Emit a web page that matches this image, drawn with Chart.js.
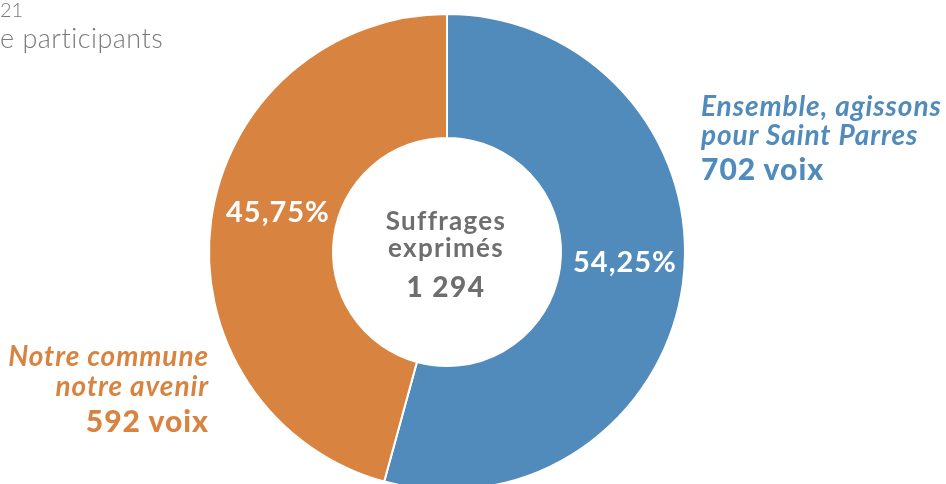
<!DOCTYPE html>
<html>
	<head>
		<meta charset="UTF-8">
		<title>Suffrages exprimés</title>
		<script src="https://cdn.jsdelivr.net/npm/chart.js@4.4.1/dist/chart.umd.min.js"></script>
		<style>
			html,body{margin:0;padding:0;background:#fff;}
			#wrap{position:relative;width:946px;height:484px;overflow:hidden;font-family:Lato,sans-serif;}
			#box{position:absolute;left:0;top:0;width:946px;height:504px;}
			.t{position:absolute;white-space:nowrap;line-height:1;}
			.blue{color:#508bbb;}
			.orange{color:#d88440;}
			.lbl{font-size:28px;font-weight:700;font-style:italic;letter-spacing:0.9px;}
			.voix{font-size:30px;font-weight:900;letter-spacing:1px;}
			.mid{left:346px;width:200px;text-align:center;color:#6e6e6e;font-weight:700;}
			.pct{font-size:29px;font-weight:700;color:#fff;letter-spacing:1px;}
			.left{right:737px;text-align:right;}
		</style>
	</head>
	<body>
		<div id="wrap">
			<div id="box"><canvas id="myChart"></canvas></div>

			<!--texte coupé en haut à gauche-->
			<div class="t" style="left:0;top:-1px;font-size:20px;font-weight:300;color:#7a7a7a">21</div>
			<div class="t" style="left:0;top:24px;font-size:27px;font-weight:300;letter-spacing:0.5px;color:#7a7a7a">e participants</div>

			<!--listes-->
			<div class="t lbl blue" style="left:701px;top:91px" id="l0a"></div>
			<div class="t lbl blue" style="left:701px;top:120px" id="l0b"></div>
			<div class="t voix blue" style="left:701px;top:153px" id="v0"></div>

			<div class="t lbl orange left" style="top:341px" id="l1a"></div>
			<div class="t lbl orange left" style="top:371px" id="l1b"></div>
			<div class="t voix orange left" style="top:405px" id="v1"></div>

			<!--centre-->
			<div class="t mid" style="top:207px;font-size:26px;letter-spacing:1.3px">Suffrages</div>
			<div class="t mid" style="top:234px;font-size:26px;letter-spacing:1.3px">exprimés</div>
			<div class="t mid" style="top:272px;font-size:28px;font-weight:900;letter-spacing:1.5px" id="total"></div>

			<!--pourcentages-->
			<div class="t pct" style="left:573px;top:246px" id="p0"></div>
			<div class="t pct" style="left:226px;top:196px" id="p1"></div>
		</div>
	</body>
	<script>
		var listes=[['Ensemble, agissons','pour Saint Parres'],['Notre commune','notre avenir']];
		var voix=[702,592];
		var couleurs=['#508bbb','#d88440'];

		var total=voix[0]+voix[1];
		function fmt(n){
			return String(n).replace(/\B(?=(\d{3})+(?!\d))/g,' ');
		}
		function pct(v){
			return (v/total*100).toFixed(2).replace('.',',')+'%';
		}
		for(var i=0;i<voix.length;i++){
			document.getElementById('l'+i+'a').textContent=listes[i][0];
			document.getElementById('l'+i+'b').textContent=listes[i][1];
			document.getElementById('v'+i).textContent=voix[i]+' voix';
			document.getElementById('p'+i).textContent=pct(voix[i]);
		}
		document.getElementById('total').textContent=fmt(total);

		//graphique
		var ctx=document.getElementById('myChart').getContext('2d');
		var myChart=new Chart(ctx,{
			type:'doughnut',
			data:{
				labels:listes.map(function(l){return l.join(' ');}),
				datasets:[{
					data:voix,
					backgroundColor:couleurs,
					borderColor:'#fff',
					borderWidth:2
				}]
			},
			options:{
				responsive:true,
				maintainAspectRatio:false,
				animation:false,
				cutout:'47.9%',
				layout:{padding:{top:13,bottom:13,left:0,right:52}},
				plugins:{legend:{display:false},tooltip:{enabled:false}}
			}
		});
	</script>
</html>
